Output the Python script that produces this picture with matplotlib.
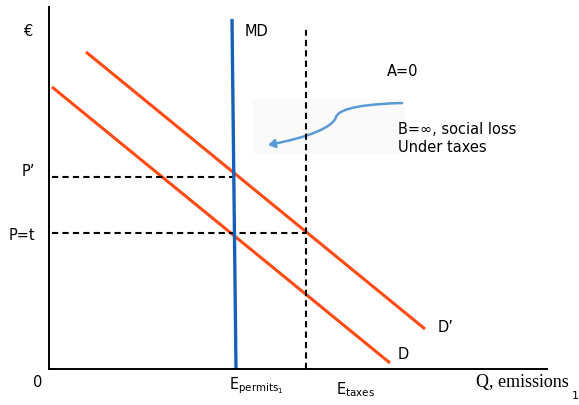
import matplotlib
matplotlib.use("Agg")
import matplotlib.pyplot as plt
from matplotlib.path import Path
from matplotlib.patches import FancyArrowPatch, Rectangle

# Economic-diagram data (units: plot coordinates, origin at axes corner)
d_q = [3, 341]
d_p = [282, 6]
dprime_q = [37, 376]
dprime_p = [317, 40]
md_q = [183, 187]
md_p = [350, 0]
e_taxes = 257
e_top = 339
p_prime = 192
p_t = 136
q_mdcross = 184

W, H = 579, 406
fig = plt.figure(figsize=(W / 100, H / 100), dpi=100)
x0, y0, x1, y1 = 49, 370, 547, 8
ax = fig.add_axes([x0 / W, (H - y0) / H, (x1 - x0) / W, (y0 - y1) / H])
ax.set_xlim(0, x1 - x0)
ax.set_ylim(0, y0 - y1)
for s in ["top", "right"]:
    ax.spines[s].set_visible(False)
for s in ["left", "bottom"]:
    ax.spines[s].set_linewidth(1.4)
    ax.spines[s].set_color("black")
ax.set_xticks([])
ax.set_yticks([])

orange = "#FF4A12"
blue = "#1560B8"

# faint highlight box
ax.add_patch(Rectangle((204, 215), 152, 55, facecolor="#fafafa", edgecolor="none", zorder=0))

ax.plot(d_q, d_p, color=orange, lw=2.2, solid_capstyle="butt")
ax.plot(dprime_q, dprime_p, color=orange, lw=2.2, solid_capstyle="butt")
ax.plot([e_taxes, e_taxes], [0, e_top], color="black", lw=1.5, ls=(0, (3, 2)))
ax.plot([3, q_mdcross], [p_prime, p_prime], color="black", lw=1.5, ls=(0, (3, 2)))
ax.plot([3, e_taxes], [p_t, p_t], color="black", lw=1.5, ls=(0, (3, 2)))
ax.plot(md_q, md_p, color=blue, lw=2.4, solid_capstyle="butt")

# curved arrow
verts = [(353, 266), (321, 265), (291, 262), (287, 252),
         (284, 242), (261, 232), (219, 224)]
codes = [Path.MOVETO, Path.CURVE4, Path.CURVE4, Path.CURVE4,
         Path.CURVE4, Path.CURVE4, Path.CURVE4]
arr = FancyArrowPatch(path=Path(verts, codes), arrowstyle="-|>,head_length=4,head_width=2.5",
                      color="#5B9BD5", lw=1.8)
ax.add_patch(arr)

fs = 10.5
kw = dict(fontsize=fs, family="DejaVu Sans", clip_on=False, va="center")
ax.text(-20, 338, "€", ha="center", **kw)
ax.text(196, 338, "MD", ha="left", **kw)
ax.text(338, 298, "A=0", ha="left", **kw)
ax.text(349, 241, "B=∞, social loss", ha="left", **kw)
ax.text(349, 223, "Under taxes", ha="left", **kw)
ax.text(-14, 198, "P’", ha="right", **kw)
ax.text(-14, 134, "P=t", ha="right", **kw)
ax.text(-11, -13, "0", ha="center", **kw)
ax.text(389, 42, "D’", ha="left", **kw)
ax.text(349, 15, "D", ha="left", **kw)
ax.text(180, -16, r"E$_{\mathrm{permits}_{1}}$", ha="left", **kw)
ax.text(287, -20, r"E$_{\mathrm{taxes}}$", ha="left", **kw)
ax.text(427, -13, "Q, emissions", ha="left", fontsize=13, family="Liberation Serif",
        clip_on=False, va="center")
ax.text(526, -26, "1", ha="center", fontsize=8, family="DejaVu Sans", clip_on=False, va="center")

fig.savefig("out.png", dpi=100)
